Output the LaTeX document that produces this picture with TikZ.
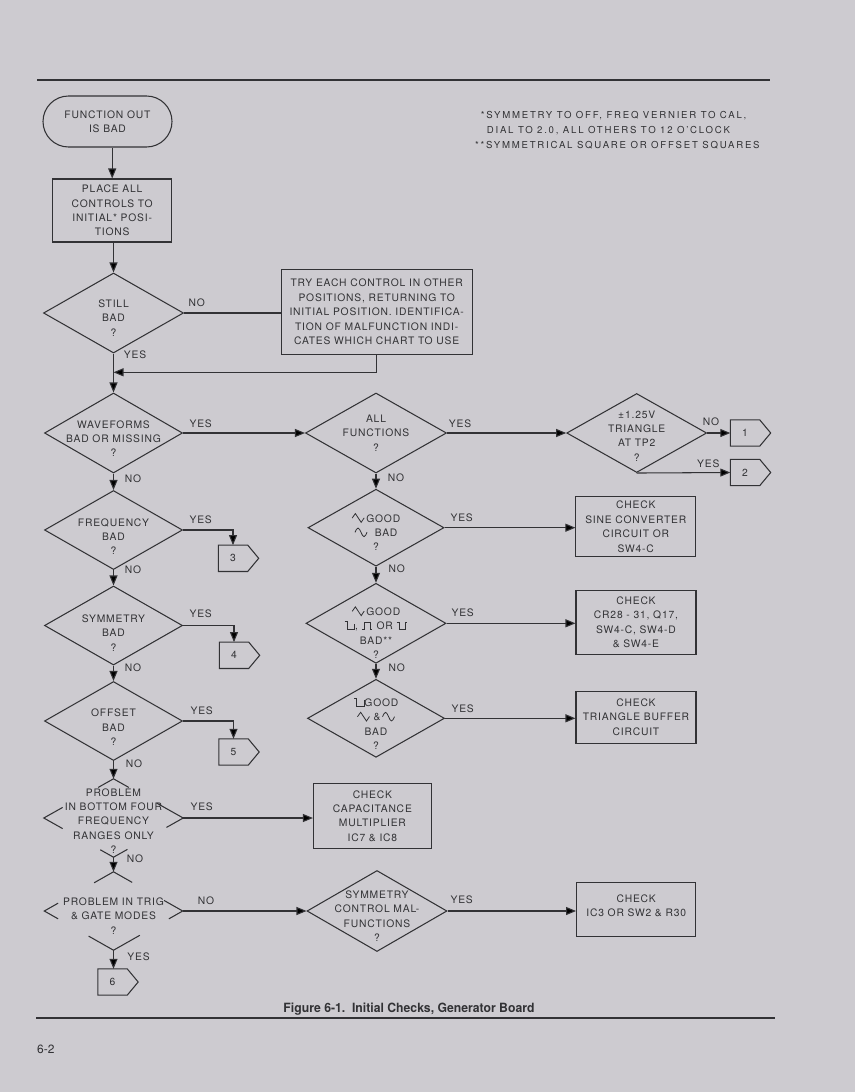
\documentclass[tikz,border=0pt]{standalone}
\usepackage{fontspec}
\usepackage{graphicx}
\setmainfont{TeX Gyre Heros}[LetterSpace=8]
\newfontfamily\capfont{TeX Gyre Heros}
\usetikzlibrary{shapes.geometric,shapes.misc,arrows.meta,calc}
\definecolor{bg}{RGB}{205,203,208}
\definecolor{ink}{RGB}{50,50,53}
\newcommand\gtri{\tikz[x=1pt,y=1pt,baseline=0pt]\draw[ink,line width=0.8pt] (0,4)--(3.2,8.5)--(9,-0.3)--(12,4.2);}
\newcommand\gsin{\tikz[x=1pt,y=1pt,baseline=0pt]\draw[ink,line width=0.8pt] (0,4.1) sin (3,8.4) cos (6,4.1) sin (9,-0.2) cos (12,4.1);}
\newcommand\gsq{\tikz[x=1pt,y=1pt,baseline=0pt]\draw[ink,line width=0.8pt] (0,8.3)--(2.8,8.3)--(2.8,0)--(10,0)--(10,6);}
\newcommand\gpul{\tikz[x=1pt,y=1pt,baseline=0pt]\draw[ink,line width=0.8pt] (0,0)--(2.5,0)--(2.5,7.5)--(8,7.5)--(8,0)--(10.5,0);}
\newcommand\gneg{\tikz[x=1pt,y=1pt,baseline=0pt]\draw[ink,line width=0.8pt] (0,7.5)--(2.5,7.5)--(2.5,0)--(8,0)--(8,7.5)--(10.5,7.5);}
\begin{document}
\begin{tikzpicture}[x=1pt,y=-1pt,
 ln/.style={draw=ink,line width=1.05pt},
 arr/.style={ln,-{Triangle[length=10pt,width=8pt]}},
 txt/.style={align=center,text=ink,inner sep=0pt,font=\fontsize{10.3}{14.4}\selectfont},
 lbl/.style={text=ink,inner sep=0pt,font=\fontsize{10.3}{12}\selectfont},
 pbox/.style 2 args={rectangle,ln,minimum width=#1,minimum height=#2,inner sep=0pt},
 dia/.style 2 args={diamond,ln,minimum width=#1,minimum height=#2,inner sep=0pt},
 hid/.style 2 args={diamond,minimum width=#1,minimum height=#2,inner sep=0pt},
 cbox/.style={rectangle,minimum width=29,minimum height=26,inner sep=0pt,text=ink,font=\fontsize{10.3}{12}\selectfont},
 note/.style={anchor=west,text=ink,inner sep=0pt,font=\fontsize{9.6}{12}\selectfont\addfontfeature{LetterSpace=18.5}}]
\useasboundingbox (0,0) rectangle (855,1092);
\fill[bg] (0,0) rectangle (855,1092);
% rules
\draw[ink,line width=1.3pt] (37,80) -- (770,80);
\draw[ink,line width=1.3pt] (36,1018) -- (775,1018);
% notes
\node[note] (n1) at (480.7,115.7) {*SYMMETRY TO OFF, FREQ VERNIER TO CAL,};
\node[note] (n2) at (486.7,130.7) {DIAL TO 2.0, ALL OTHERS TO 12 O'CLOCK};
\node[note] (n3) at (475,145) {**SYMMETRICAL SQUARE OR OFFSET SQUARES};
% left column
\node[rounded rectangle,ln,minimum width=129,minimum height=51,inner sep=0pt,txt] (start) at (107.5,121.5) {FUNCTION OUT\\IS BAD};
\node[pbox={119}{63},txt] (place) at (112.2,210.5) {PLACE ALL\\CONTROLS TO\\INITIAL* POSI-\\TIONS};
\node[dia={140}{80}] (still) at (113.5,313) {};
\node[txt] (stillt) at (113.5,318) {STILL\\BAD\\?};
\node[pbox={191.3}{85.4},txt] (try) at (376.7,312) {TRY EACH CONTROL IN OTHER\\POSITIONS, RETURNING TO\\INITIAL POSITION. IDENTIFICA-\\TION OF MALFUNCTION INDI-\\CATES WHICH CHART TO USE};
\node[lbl] (stillno) at (196.7,302.7) {NO};
\node[lbl] (stillyes) at (135,354.7) {YES};
\coordinate (j1) at (113.5,372.3);

\node[dia={138}{80}] (wave) at (113.5,433) {};
\node[txt] (wavet) at (113.5,438.7) {WAVEFORMS\\BAD OR MISSING\\?};
\node[lbl] (waveyes) at (200.7,424) {YES};
\node[lbl] (waveno) at (133,478.3) {NO};

\node[dia={138}{79}] (freq) at (113.5,530) {};
\node[txt] (freqt) at (113.5,536.7) {FREQUENCY\\BAD\\?};
\node[lbl] (freqyes) at (200.7,519.3) {YES};
\node[lbl] (freqno) at (133,570) {NO};

\node[dia={138}{79}] (sym) at (113.5,625.5) {};
\node[txt] (symt) at (113.5,633) {SYMMETRY\\BAD\\?};
\node[lbl] (symyes) at (200.7,614) {YES};
\node[lbl] (symno) at (133,667.7) {NO};

\node[dia={138}{79}] (off) at (113.5,721) {};
\node[txt] (offt) at (113.5,727.3) {OFFSET\\BAD\\?};
\node[lbl] (offyes) at (201.7,710.7) {YES};
\node[lbl] (offno) at (134,764) {NO};

\node[hid={139}{78}] (pb1) at (113.5,818) {};
\node[txt] (pb1t) at (113.5,821) {PROBLEM\\IN BOTTOM FOUR\\FREQUENCY\\RANGES ONLY\\?};
\node[lbl] (pb1yes) at (201.7,806.7) {YES};
\node[lbl] (pb1no) at (135,859) {NO};

\node[hid={138}{78}] (pb2) at (113.5,911) {};
\node[txt] (pb2t) at (113.5,916) {PROBLEM IN TRIG\\\& GATE MODES\\?};
\node[lbl] (pb2no) at (206,901) {NO};
\node[lbl] (pb2yes) at (138.5,956.7) {YES};

% off-page connectors
\node[cbox] (c1) at (745,433) {1};
\node[cbox] (c2) at (745,472.5) {2};
\node[cbox] (c3) at (233,558.3) {3};
\node[cbox] (c4) at (234,655.3) {4};
\node[cbox] (c5) at (233.5,752) {5};
\node[cbox] (c6) at (112.5,982) {6};
\foreach \c in {c1,c2,c3,c4,c5,c6}
  \draw[ln] (\c.north west) -- (\c.north east) -- ($(\c.east)+(11,0)$) -- (\c.south east) -- (\c.south west) -- cycle;

% right column
\node[dia={141}{80}] (all) at (376,433) {};
\node[txt] (allt) at (376,433) {ALL\\FUNCTIONS\\?};
\node[lbl] (allyes) at (460,423.3) {YES};
\node[lbl] (allno) at (396,477.7) {NO};

\node[dia={140}{79}] (pm) at (636.7,433) {};
\node[txt] (pmt) at (636.7,436) {±1.25V\\TRIANGLE\\AT TP2\\?};
\node[lbl] (pmno) at (711,421.7) {NO};
\node[lbl] (pmyes) at (708.3,464) {YES};

\node[dia={136}{77}] (sine) at (376,527.7) {};
\node[txt] (sinet) at (376,532) {\gtri\,GOOD\\\gsin\ \ BAD\\?};
\node[lbl] (sineyes) at (461.7,517.7) {YES};
\node[lbl] (sineno) at (396.7,568.3) {NO};
\node[pbox={119.7}{60},txt] (sc) at (635.8,526.7) {CHECK\\SINE CONVERTER\\CIRCUIT OR\\SW4-C};

\node[dia={140}{80}] (sq) at (376,623.3) {};
\node[txt] (sqt) at (376,632.5) {\gtri\,GOOD\\\gsq, \gpul\ OR \gneg\\BAD**\\?};
\node[lbl] (sqyes) at (462.7,612.3) {YES};
\node[lbl] (sqno) at (396.7,667.3) {NO};
\node[pbox={120}{64.3},txt] (cr) at (636,622.2) {CHECK\\CR28 - 31, Q17,\\SW4-C, SW4-D\\\& SW4-E};

\node[dia={137}{78}] (tri) at (376,718.3) {};
\node[txt] (trit) at (376,723.6) {\gsq GOOD\\\gtri\ \&\,\gsin\\BAD\\?};
\node[lbl] (triyes) at (462.7,709) {YES};
\node[pbox={120}{52.3},txt] (tb) at (636,717.2) {CHECK\\TRIANGLE BUFFER\\CIRCUIT};

\node[pbox={118}{65},txt] (cm) at (372.4,816) {CHECK\\CAPACITANCE\\MULTIPLIER\\IC7 \& IC8};

\node[dia={140}{81}] (sc2) at (377,911) {};
\node[txt] (sc2t) at (377,916.2) {SYMMETRY\\CONTROL MAL-\\FUNCTIONS\\?};
\node[lbl] (sc2yes) at (461.7,900) {YES};
\node[pbox={119.3}{54}] (ic) at (636.2,909.3) {};
\node[txt] (ict) at (636.2,905.5) {CHECK\\IC3 OR SW2 \& R30};

% broken diamonds
\draw[ln] ($(pb1.north)!0.22!(pb1.west)$) -- (pb1.north) -- ($(pb1.north)!0.22!(pb1.east)$);
\draw[ln] ($(pb1.west)!0.27!(pb1.north)$) -- (pb1.west) -- ($(pb1.west)!0.27!(pb1.south)$);
\draw[ln] ($(pb1.east)!0.38!(pb1.north)$) -- (pb1.east) -- ($(pb1.east)!0.24!(pb1.south)$);
\draw[ln] ($(pb1.south)!0.19!(pb1.west)$) -- (pb1.south) -- ($(pb1.south)!0.2!(pb1.east)$);
\draw[ln] ($(pb2.north)!0.28!(pb2.west)$) -- (pb2.north) -- ($(pb2.north)!0.27!(pb2.east)$);
\draw[ln] ($(pb2.west)!0.2!(pb2.north)$) -- (pb2.west) -- ($(pb2.west)!0.2!(pb2.south)$);
\draw[ln] ($(pb2.east)!0.27!(pb2.north)$) -- (pb2.east) -- ($(pb2.east)!0.2!(pb2.south)$);
\draw[ln] ($(pb2.south)!0.36!(pb2.west)$) -- (pb2.south) -- ($(pb2.south)!0.38!(pb2.east)$);

% connectors
\draw[arr] (start.south -| place.north) -- (place.north);
\draw[arr] (place.south -| still.north) -- (still.north);
\draw[ln] (still.east) -- (still.east -| try.west);
\draw[arr] (try.south) |- (j1);
\draw[arr] (still.south) -- (wave.north);
\draw[arr] (wave.east) -- (all.west);
\draw[arr] (wave.south) -- (freq.north);
\draw[arr] (freq.east) -| (c3.north);
\draw[arr] (freq.south) -- (sym.north);
\draw[arr] (sym.east) -| (c4.north);
\draw[arr] (sym.south) -- (off.north);
\draw[arr] (off.east) -| (c5.north);
\draw[arr] (off.south) -- (pb1.north);
\draw[arr] (pb1.east) -- (pb1.east -| cm.west);
\draw[arr] (pb1.south) -- (pb2.north);
\draw[arr] (pb2.east) -- (sc2.west);
\draw[arr] (sc2.east) -- (sc2.east -| ic.west);
\draw[arr] (pb2.south) -- (pb2.south |- c6.north);
\draw[arr] (all.east) -- (pm.west);
\draw[arr] (pm.east) -- (c1.west);
\draw[arr] (pm.south) -- (c2.west);
\draw[arr] (all.south) -- (sine.north);
\draw[arr] (sine.east) -- (sine.east -| sc.west);
\draw[arr] (sine.south) -- (sq.north);
\draw[arr] (sq.east) -- (sq.east -| cr.west);
\draw[arr] (sq.south) -- (tri.north);
\draw[arr] (tri.east) -- (tri.east -| tb.west);

% caption and page number
\node[anchor=base,text=ink,inner sep=0pt] (cap) at (409,1012.5) {\resizebox{251pt}{9.5pt}{\capfont\bfseries Figure 6-1.\ \ Initial Checks, Generator Board}};
\node[anchor=west,text=ink,inner sep=0pt,font=\capfont\fontsize{12}{14}\selectfont] (pg) at (37,1049) {6-2};
\end{tikzpicture}
\end{document}
